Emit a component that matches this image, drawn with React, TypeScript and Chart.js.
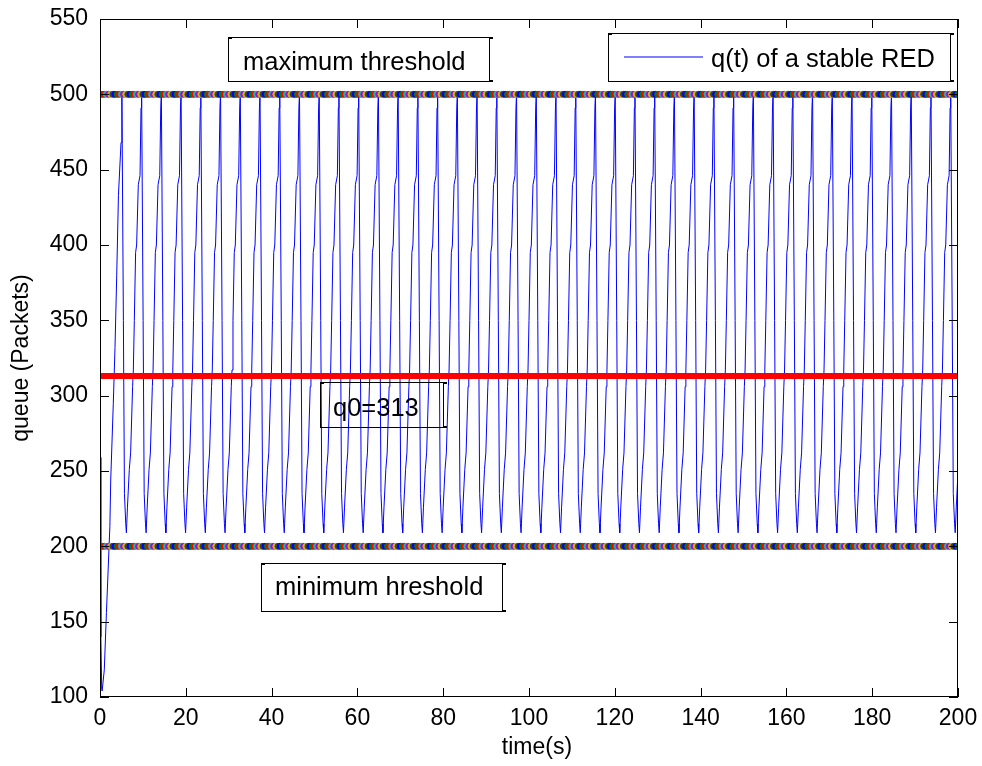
import React, { useEffect, useRef } from "react";
import { Chart, registerables } from "chart.js";

Chart.register(...registerables);

// ---- data ----
const xTicks = [0, 20, 40, 60, 80, 100, 120, 140, 160, 180, 200];
const yTicks = [100, 150, 200, 250, 300, 350, 400, 450, 500, 550];

// start-up transient of q(t)
const startTimes = [0, 0.2, 0.4, 0.5, 1.0, 1.5, 2.3, 2.5, 3.1, 3.5, 3.9, 4.3, 4.9];
const startQueue = [259, 140, 105, 104, 118, 156, 213, 244, 295, 332, 380, 433, 468];

// times of the queue peaks (s)
const peakTimes = [
  5.1, 9.7, 14.3, 18.9, 23.5, 28.1, 32.7, 37.3, 41.9, 46.5,
  51.1, 55.7, 60.3, 64.9, 69.5, 74.1, 78.7, 83.3, 87.9, 92.5,
  97.1, 101.7, 106.3, 110.9, 115.5, 120.1, 124.7, 129.3, 133.9, 138.5,
  143.1, 147.7, 152.3, 156.9, 161.5, 166.1, 170.7, 175.3, 179.9, 184.5,
  189.1, 193.7, 198.3,
];
// shape of one oscillation, relative to its peak
const cycleOffsets = [0, 0.35, 0.6, 0.9, 1.05, 1.3, 1.73, 2.04, 2.5, 2.67, 2.9, 3.2, 3.44, 3.83, 4.23, 4.46];
const cycleQueue = [501, 350, 235, 215, 209, 226, 251, 262, 306, 317, 350, 395, 400, 440, 446, 491];

const q0 = 313;
const minThreshold = 200;
const maxThreshold = 500;
const markerStep = 0.5;
const markerColors = ["#0000ff", "#008000", "#ff0000", "#00bfbf", "#bf00bf", "#bfbf00", "#404040"];

const xTitle = "time(s)";
const yTitle = "queue (Packets)";

const FONT = "'Liberation Sans', Arial, Helvetica, sans-serif";

function buildQueue() {
  const pts: { x: number; y: number }[] = [];
  startTimes.forEach((t, i) => pts.push({ x: t, y: startQueue[i] }));
  peakTimes.forEach((p) => {
    cycleOffsets.forEach((o, j) => pts.push({ x: p + o, y: cycleQueue[j] }));
  });
  return pts;
}

function buildMarkers(level: number) {
  const pts: { x: number; y: number }[] = [];
  const n = Math.round((xTicks[xTicks.length - 1] - xTicks[0]) / markerStep);
  for (let i = 0; i <= n; i++) pts.push({ x: xTicks[0] + i * markerStep, y: level });
  return pts;
}

const framePlugin = {
  id: "frame",
  afterDatasetsDraw(chart: any) {
    const { ctx, chartArea, scales } = chart;
    const { left, right, top, bottom } = chartArea;
    const x = scales.x;
    const y = scales.y;
    ctx.save();
    ctx.strokeStyle = "#000";
    ctx.lineWidth = 1;
    // ticks (inward, all four sides)
    const tl = 9;
    ctx.beginPath();
    xTicks.forEach((v) => {
      const px = Math.round(x.getPixelForValue(v)) + 0.5;
      ctx.moveTo(px, bottom);
      ctx.lineTo(px, bottom - tl);
      ctx.moveTo(px, top);
      ctx.lineTo(px, top + tl);
    });
    yTicks.forEach((v) => {
      const py = Math.round(y.getPixelForValue(v)) + 0.5;
      ctx.moveTo(left, py);
      ctx.lineTo(left + tl, py);
      ctx.moveTo(right, py);
      ctx.lineTo(right - tl, py);
    });
    ctx.stroke();
    // axes box
    ctx.strokeRect(left + 0.5, top + 0.5, right - left - 1, bottom - top - 1);

    // axis titles
    ctx.fillStyle = "#000";
    ctx.font = `23px ${FONT}`;
    ctx.textAlign = "center";
    ctx.textBaseline = "middle";
    ctx.fillText(xTitle, 537, 748);
    ctx.save();
    ctx.translate(22, (top + bottom) / 2);
    ctx.rotate(-Math.PI / 2);
    ctx.fillText(yTitle, 0, 0);
    ctx.restore();

    // annotation boxes
    const box = (l: number, t: number, r: number, b: number, fill: boolean) => {
      if (fill) {
        ctx.fillStyle = "#fff";
        ctx.fillRect(l, t, r - l, b - t);
      }
      ctx.strokeStyle = "#000";
      ctx.lineWidth = 1;
      ctx.strokeRect(l + 0.5, t + 0.5, r - l, b - t);
      // small selection handles
      ctx.lineWidth = 2;
      ctx.beginPath();
      ctx.moveTo(l, t + 1);
      ctx.lineTo(l + 4, t + 1);
      ctx.moveTo(r + 0.5, t + 1);
      ctx.lineTo(r + 4, t + 1);
      ctx.moveTo(r + 0.5, b);
      ctx.lineTo(r + 4, b);
      ctx.stroke();
      ctx.lineWidth = 1;
    };
    ctx.font = `25.5px ${FONT}`;
    ctx.textBaseline = "alphabetic";
    ctx.textAlign = "left";

    box(228, 37, 489, 81, false);
    ctx.fillStyle = "#000";
    ctx.fillText("maximum threshold", 243, 70);

    box(608, 33, 950, 81, true);
    ctx.strokeStyle = "#0000ff";
    ctx.lineWidth = 1;
    ctx.beginPath();
    ctx.moveTo(624, 57);
    ctx.lineTo(703, 57);
    ctx.stroke();
    ctx.fillStyle = "#000";
    ctx.fillText("q(t) of a stable RED", 711, 67);

    box(320, 382, 443, 427, false);
    ctx.fillStyle = "#000";
    ctx.fillText("q0=313", 333, 416);

    box(261, 563, 502, 611, false);
    ctx.fillStyle = "#000";
    ctx.fillText("minimum hreshold", 275, 595);

    ctx.restore();
  },
};

export default function App() {
  const ref = useRef<HTMLCanvasElement | null>(null);
  useEffect(() => {
    if (!ref.current) return;
    const markerColor = (c: any) => markerColors[c.dataIndex % markerColors.length];
    const chart = new Chart(ref.current, {
      type: "scatter",
      data: {
        datasets: [
          {
            label: "q0",
            data: [
              { x: xTicks[0], y: q0 },
              { x: xTicks[xTicks.length - 1], y: q0 },
            ],
            showLine: true,
            borderColor: "#ff0000",
            borderWidth: 6,
            pointRadius: 0,
            order: 0,
          },
          {
            label: "max",
            data: buildMarkers(maxThreshold),
            showLine: false,
            pointRadius: 3,
            pointBorderWidth: 1,
            pointBackgroundColor: markerColor,
            pointBorderColor: markerColor,
            order: 1,
          },
          {
            label: "min",
            data: buildMarkers(minThreshold),
            showLine: false,
            pointRadius: 3,
            pointBorderWidth: 1,
            pointBackgroundColor: markerColor,
            pointBorderColor: markerColor,
            order: 1,
          },
          {
            label: "q(t) of a stable RED",
            data: buildQueue(),
            showLine: true,
            borderColor: "#0000ff",
            borderWidth: 1,
            pointRadius: 0,
            tension: 0,
            order: 2,
          },
        ],
      },
      options: {
        animation: false,
        responsive: false,
        maintainAspectRatio: false,
        events: [],
        layout: { padding: { top: 19, right: 24, left: 0, bottom: 0 }, autoPadding: false },
        plugins: { legend: { display: false }, tooltip: { enabled: false } },
        scales: {
          x: {
            type: "linear",
            min: 0,
            max: 200,
            grid: { display: false, drawTicks: false },
            border: { display: false },
            ticks: {
              stepSize: 20,
              autoSkip: false,
              maxRotation: 0,
              color: "#000",
              padding: 8,
              font: { family: FONT, size: 23 },
            },
            afterFit: (s: any) => {
              s.height = 69;
              s.paddingLeft = 0;
              s.paddingRight = 0;
            },
          },
          y: {
            type: "linear",
            min: 100,
            max: 550,
            grid: { display: false, drawTicks: false },
            border: { display: false },
            ticks: {
              stepSize: 50,
              autoSkip: false,
              color: "#000",
              padding: 12,
              font: { family: FONT, size: 23 },
            },
            afterFit: (s: any) => {
              s.width = 100;
              s.paddingTop = 0;
              s.paddingBottom = 0;
            },
          },
        },
      },
      plugins: [framePlugin],
    });
    return () => chart.destroy();
  }, []);
  return (
    <div style={{ position: "absolute", left: 0, top: 0, width: 982, height: 766, background: "#fff" }}>
      <canvas ref={ref} width={982} height={766} style={{ display: "block" }} />
    </div>
  );
}
